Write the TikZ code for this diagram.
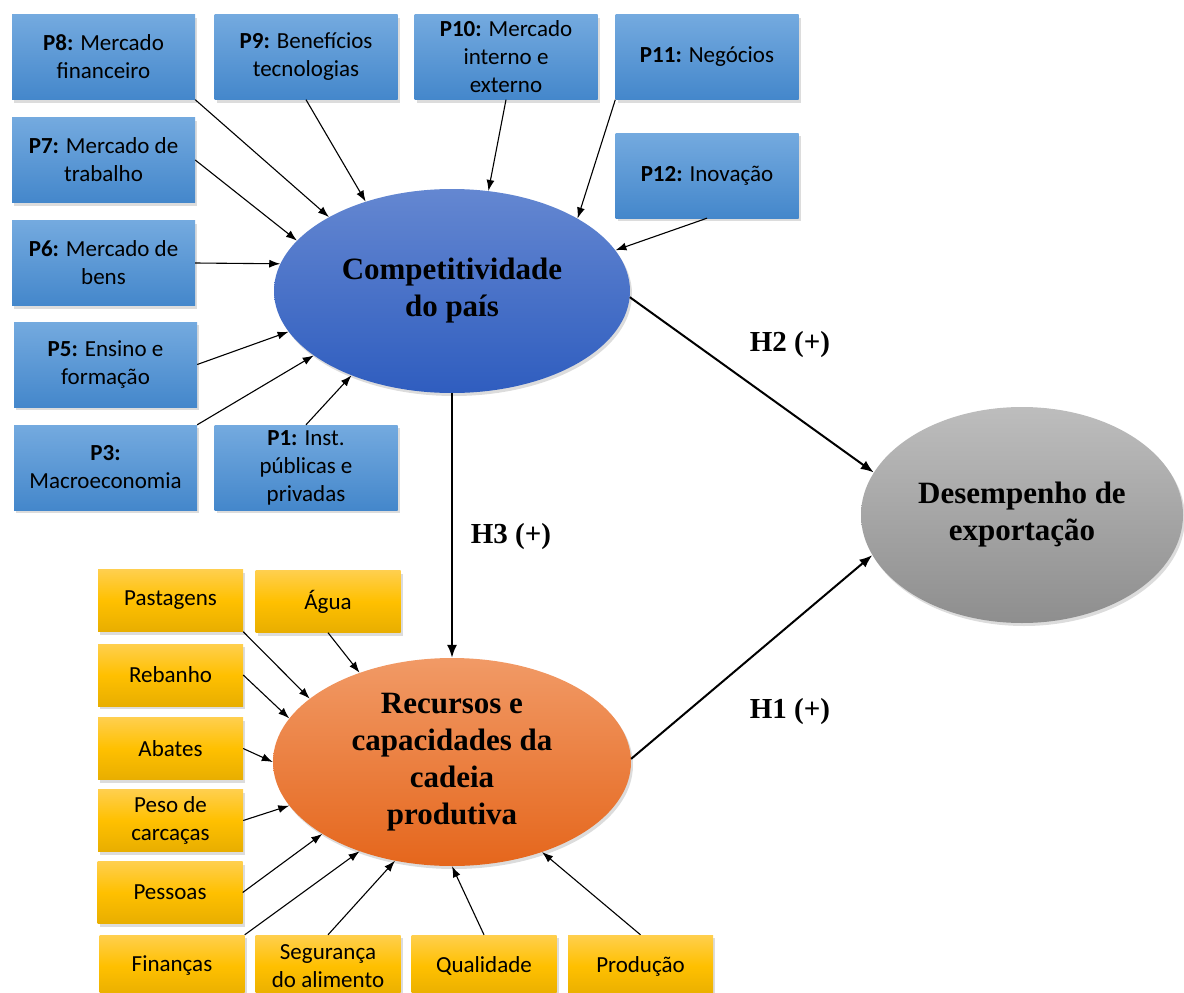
\documentclass[tikz,border=0pt]{standalone}
\usepackage{fontspec}
\setmainfont{Liberation Serif}
\newfontfamily\boxfont{Carlito}
\usetikzlibrary{arrows.meta,shadows,shapes.geometric}

\definecolor{blueTop}{HTML}{74AADF}
\definecolor{blueBot}{HTML}{4487CB}
\definecolor{goldTop}{HTML}{FFCF4E}
\definecolor{goldMid}{HTML}{FFC000}
\definecolor{goldBot}{HTML}{E8AE00}
\definecolor{compTop}{HTML}{6487D1}
\definecolor{compBot}{HTML}{2F5DBF}
\definecolor{recTop}{HTML}{F19A66}
\definecolor{recBot}{HTML}{E5661C}
\definecolor{expTop}{HTML}{BDBDBD}
\definecolor{expBot}{HTML}{8E8E8E}

\begin{document}
\begin{tikzpicture}[x=1pt,y=-1pt,
  softshadow/.style={drop shadow={opacity=0.28, shadow xshift=2pt, shadow yshift=-3pt}},
  pillar/.style={rectangle, minimum width=183pt, minimum height=85pt, inner sep=2pt,
    align=center, font=\boxfont\fontsize{23}{28}\selectfont,
    top color=blueTop, bottom color=blueBot, softshadow},
  resource/.style={rectangle, minimum width=145pt, minimum height=62pt, inner sep=2pt,
    align=center, font=\boxfont\fontsize{23}{28}\selectfont,
    top color=goldTop, bottom color=goldBot, middle color=goldMid, softshadow},
  construct/.style={ellipse, inner sep=0pt, align=center,
    font=\bfseries\fontsize{31}{37}\selectfont, softshadow},
  feed/.style={-{Latex[length=11pt,width=8pt]}, line width=1.1pt},
  hypo/.style={-{Latex[length=13pt,width=10pt]}, line width=2pt},
  hlabel/.style={font=\bfseries\fontsize{29}{34}\selectfont}
]
\useasboundingbox (0,0) rectangle (1184,993);

% central constructs
\node[construct, minimum width=356pt, minimum height=204pt,
      top color=compTop, bottom color=compBot] (comp) at (452,291)
      {Competitividade\\do país};
\node[construct, minimum width=358pt, minimum height=208pt,
      top color=recTop, bottom color=recBot] (rec) at (452,762)
      {Recursos e\\capacidades da\\cadeia\\produtiva};
\node[construct, minimum width=322pt, minimum height=216pt,
      top color=expTop, bottom color=expBot] (exp) at (1022,515)
      {Desempenho de\\exportação};

% pillars of country competitiveness
\node[pillar] (p8)  at (103.5,57)    {\textbf{P8:} Mercado\\financeiro};
\node[pillar] (p9)  at (306,57)      {\textbf{P9:} Benefícios\\tecnologias};
\node[pillar] (p10) at (506,57)      {\textbf{P10:} Mercado\\interno e\\externo};
\node[pillar] (p11) at (707,57)      {\textbf{P11:} Negócios};
\node[pillar] (p12) at (707,175.5)   {\textbf{P12:} Inovação};
\node[pillar] (p7)  at (103.5,160)   {\textbf{P7:} Mercado de\\trabalho};
\node[pillar] (p6)  at (103.5,263)   {\textbf{P6:} Mercado de\\bens};
\node[pillar] (p5)  at (105.5,364.5) {\textbf{P5:} Ensino e\\formação};
\node[pillar] (p3)  at (105.5,467.5) {\textbf{P3:}\\Macroeconomia};
\node[pillar] (p1)  at (306,467.5)   {\textbf{P1:} Inst.\\públicas e\\privadas};

% resources of the production chain
\node[resource] (pas) at (170.5,600.5) {Pastagens};
\node[resource] (agu) at (328,601.5)   {Água};
\node[resource] (reb) at (170.5,675)   {Rebanho};
\node[resource] (aba) at (170.5,748.5) {Abates};
\node[resource] (pes) at (170.5,820.5) {Peso de\\carcaças};
\node[resource] (pso) at (170,892.5)   {Pessoas};
\node[resource] (fin) at (172,966)     {Finanças};
\node[resource] (seg) at (328,966)     {Segurança\\do alimento};
\node[resource] (qua) at (484,966)     {Qualidade};
\node[resource] (pro) at (640.5,966)   {Produção};

% pillar arrows
\draw[feed] (p8.south east) -- (comp.149.7);
\draw[feed] (p9.south)      -- (comp.134.4);
\draw[feed] (p10.south)     -- (comp.70.1);
\draw[feed] (p11.south west) -- (comp.30);
\draw[feed] (p12.south)     -- (comp.14.1);
\draw[feed] (p7.east)       -- (comp.162.8);
\draw[feed] (p6.east)       -- (comp.171.8);
\draw[feed] (p5.east)       -- (comp.194);
\draw[feed] (p3.north east) -- (comp.205.9);
\draw[feed] (p1.north)      -- (comp.220);

% resource arrows
\draw[feed] (pas.south east) -- (rec.156.3);
\draw[feed] (agu.south)      -- (rec.136.3);
\draw[feed] (reb.east)       -- (rec.165.5);
\draw[feed] (aba.east)       -- (rec.180);
\draw[feed] (pes.east)       -- (rec.195.6);
\draw[feed] (pso.east)       -- (rec.209.9);
\draw[feed] (fin.north east) -- (rec.224);
\draw[feed] (seg.north)      -- (rec.240.8);
\draw[feed] (qua.north)      -- (rec.270);
\draw[feed] (pro.north)      -- (rec.315.6);

% hypotheses
\draw[hypo] (comp.358) -- (exp.164.9);
\draw[hypo] (rec.1.6)  -- (exp.195.8);
\draw[hypo] (comp.south) -- (rec.north);

\node[hlabel] (h2) at (790,345) {H2 (+)};
\node[hlabel] (h3) at (511,537) {H3 (+)};
\node[hlabel] (h1) at (790,712) {H1 (+)};
\end{tikzpicture}
\end{document}
